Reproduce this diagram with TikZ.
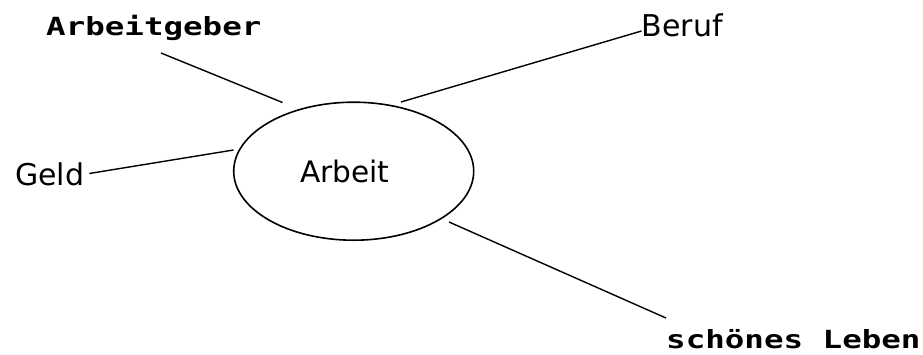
\documentclass[tikz,border=0pt]{standalone}
\usepackage{fontspec}
\setmainfont{DejaVu Sans}
\newfontfamily\monofam[FakeStretch=1.3]{DejaVu Sans Mono Bold}
\usetikzlibrary{shapes.geometric}
\begin{document}
\begin{tikzpicture}[x=1pt,y=-1pt,
  sanslabel/.style={inner sep=0pt, anchor=base west, font=\fontsize{30}{36}\selectfont},
  monolabel/.style={inner sep=0pt, anchor=base west, font=\fontsize{25}{30}\selectfont\monofam},
  centre/.style={draw, ellipse, line width=1.6pt, minimum width=240pt, minimum height=138pt,
    inner sep=0pt, font=\fontsize{29.6}{36}\selectfont},
  spoke/.style={line width=1.4pt},
]
\useasboundingbox (0,0) rectangle (923,354);
\node[centre] (arbeit) at (353.7,171.2) {\kern-18pt Arbeit};
\node[monolabel] (geber) at (46,35.7) {Arbeitgeber};
\node[sanslabel] (beruf) at (641.5,36) {Beruf};
\node[sanslabel] (geld) at (15,185) {Geld};
\node[monolabel] (leben) at (666,348) {schönes Leben};
\coordinate (a1) at (161,53);
\coordinate (a2) at (282.5,102.5);
\coordinate (b1) at (641.5,31);
\coordinate (b2) at (401,102);
\coordinate (g1) at (89.3,173.5);
\coordinate (g2) at (233.5,150);
\coordinate (s1) at (449,222);
\coordinate (s2) at (666,318);
\draw[spoke] (a1) -- (a2);
\draw[spoke] (b1) -- (b2);
\draw[spoke] (g1) -- (g2);
\draw[spoke] (s1) -- (s2);
\end{tikzpicture}
\end{document}
